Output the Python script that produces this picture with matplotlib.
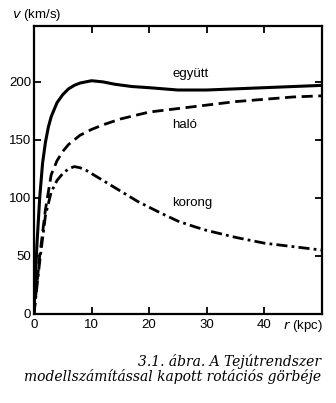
import matplotlib.pyplot as plt

# rotation curve of the Galaxy: radius in kpc, velocity in km/s
r_total = [0, 0.5, 1, 1.5, 2, 2.5, 3, 4, 5, 6, 7, 8, 10, 12, 14, 17, 20, 25, 30, 35, 40, 45, 50]
v_total = [0, 58, 100, 130, 148, 161, 170, 182, 189, 194, 197, 199, 201, 200, 198, 196, 195, 193, 193, 194, 195, 196, 197]

r_halo = [0, 1, 2, 3, 4, 5, 6, 8, 10, 12, 15, 20, 25, 30, 35, 40, 45, 50]
v_halo = [0, 50, 90, 120, 132, 140, 146, 154, 159, 163, 168, 174, 177, 180, 183, 185, 187, 188]

r_disk = [0, 1, 2, 3, 4, 5, 6, 7, 8, 9, 10, 12, 14, 16, 18, 20, 22, 25, 28, 30, 35, 40, 45, 50]
v_disk = [0, 45, 85, 105, 115, 121, 125, 127, 126, 124, 121, 115, 109, 103, 97, 92, 87, 80, 75, 72, 66, 61, 58, 55]

x_ticks = [0, 10, 20, 30, 40]
y_ticks = [0, 50, 100, 150, 200]

plt.rcParams['font.family'] = ['Liberation Sans', 'DejaVu Sans']

fig = plt.figure(figsize=(3.36, 4.03), dpi=100)
ax = fig.add_axes([0.101, 0.221, 0.857, 0.714])

ax.plot(r_total, v_total, color='black', lw=2.2, solid_capstyle='butt')
ax.plot(r_halo, v_halo, color='black', lw=2.0, dashes=(4, 2))
ax.plot(r_disk, v_disk, color='black', lw=2.0, dashes=(4, 1.5, 1, 1.5))

ax.set_xlim(0, 50)
ax.set_ylim(0, 248)
ax.set_xticks(x_ticks)
ax.set_yticks(y_ticks)
ax.tick_params(direction='in', top=True, right=True, length=5, width=1.3,
               labelsize=9.5, pad=2)
ax.tick_params(axis='x', pad=4)
for s in ax.spines.values():
    s.set_linewidth(1.6)

ax.text(24, 207, 'együtt', fontsize=9.5, va='center')
ax.text(24, 163, 'haló', fontsize=9.5, va='center')
ax.text(24, 96, 'korong', fontsize=9.5, va='center')

fig.text(0.035, 0.962, r'$v$ (km/s)', fontsize=9.5, va='center',
         math_fontfamily='dejavusans')
fig.text(0.962, 0.191, r'$r$ (kpc)', fontsize=9.5, va='center', ha='right',
         math_fontfamily='dejavusans')

cap = dict(family='DejaVu Serif', style='italic', fontsize=10, ha='right')
fig.text(0.955, 0.092, '3.1. ábra. A Tejútrendszer', **cap)
fig.text(0.955, 0.055, 'modellszámítással kapott rotációs görbéje', **cap)

fig.savefig('out.png', dpi=100)
